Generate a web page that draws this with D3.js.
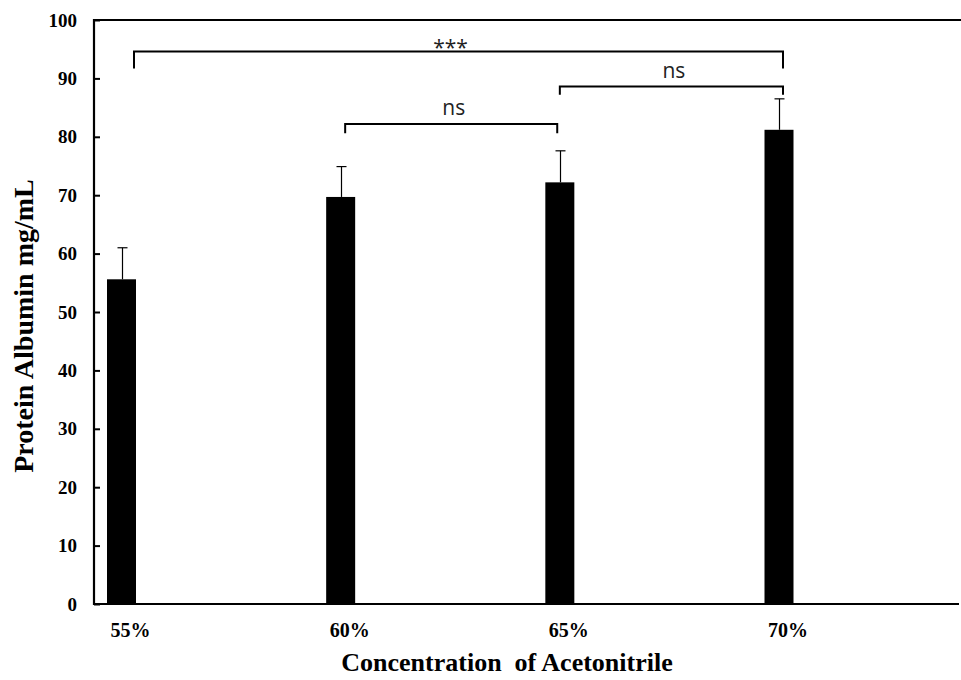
<!DOCTYPE html>
<html>
<head>
<meta charset="utf-8">
<script src="https://cdn.jsdelivr.net/npm/d3@7/dist/d3.min.js"></script>
<style>
  html, body { margin: 0; padding: 0; background: #fff; }
  svg { display: block; }
</style>
</head>
<body>
<svg id="chart" width="961" height="680"></svg>
<script>
// ---- data ----
const categories = ["55%", "60%", "65%", "70%"];
const values = [55.6, 69.7, 72.2, 81.2];
const errors = [5.4, 5.2, 5.4, 5.3];
const yTicks = [0, 10, 20, 30, 40, 50, 60, 70, 80, 90, 100];
const bracketFrom = ["55%", "65%", "60%"];
const bracketTo = ["70%", "70%", "65%"];
const bracketTop = [94.6, 88.6, 82.2];
const bracketLeg = [91.7, 87.2, 80.6];
const bracketLabels = ["***", "ns", "ns"];
const xTitle = "Concentration  of Acetonitrile";
const yTitle = "Protein Albumin mg/mL";

// ---- layout ----
const svg = d3.select("#chart");
const axisX = 94, axisBottom = 604, axisTop = 20, rightEdge = 961;
const serif = "'Times New Roman', 'Liberation Serif', serif";
const sans = "'Open Sans', 'Liberation Sans', sans-serif";

const x = d3.scalePoint().domain(categories).range([121.5, 779]);
const y = d3.scaleLinear().domain([0, 100]).range([axisBottom, axisTop]);
const barW = 29;
// small per-end offsets of bracket legs (layout only)
const legOffL = [12.5, 0, 4.5];
const legOffR = [4, 4, -2.6];

// top frame line
svg.append("line")
  .attr("x1", axisX).attr("x2", rightEdge)
  .attr("y1", y(100)).attr("y2", y(100))
  .attr("stroke", "#000").attr("stroke-width", 2);

// bars
svg.append("g").selectAll("rect")
  .data(categories)
  .join("rect")
  .attr("x", (d) => x(d) - barW / 2)
  .attr("width", barW)
  .attr("y", (d, i) => y(values[i]))
  .attr("height", (d, i) => y(0) - y(values[i]))
  .attr("fill", "#000");

// error bars (upper only)
const eg = svg.append("g").attr("stroke", "#000").attr("stroke-width", 1.2);
categories.forEach((c, i) => {
  const cx = Math.round(x(c)) + 0.5;
  eg.append("line").attr("x1", cx).attr("x2", cx)
    .attr("y1", y(values[i])).attr("y2", y(values[i] + errors[i]));
  eg.append("line").attr("x1", cx - 5).attr("x2", cx + 5)
    .attr("y1", y(values[i] + errors[i])).attr("y2", y(values[i] + errors[i]));
});

// y axis
const yAxis = d3.axisLeft(y).tickValues(yTicks).tickSizeInner(-6).tickSizeOuter(0).tickPadding(17);
const yg = svg.append("g").attr("transform", `translate(${axisX},0)`).call(yAxis);
yg.select(".domain").attr("stroke-width", 2.2).attr("d", `M0,${axisBottom + 1}V${axisTop - 1}`);
yg.selectAll(".tick line").attr("stroke-width", 2);
yg.selectAll(".tick text")
  .attr("font-family", serif).attr("font-weight", "bold").attr("font-size", 19).attr("fill", "#000");

// x axis line
svg.append("line")
  .attr("x1", axisX - 1).attr("x2", 959)
  .attr("y1", axisBottom).attr("y2", axisBottom)
  .attr("stroke", "#000").attr("stroke-width", 2.2);

// x category labels
svg.append("g").selectAll("text")
  .data(categories)
  .join("text")
  .attr("x", (d) => x(d) + 9)
  .attr("y", 637)
  .attr("text-anchor", "middle")
  .attr("font-family", serif).attr("font-weight", "bold").attr("font-size", 20)
  .text((d) => d);

// significance brackets
const bg = svg.append("g");
bracketLabels.forEach((lab, i) => {
  const x1 = x(bracketFrom[i]) + legOffL[i];
  const x2 = x(bracketTo[i]) + legOffR[i];
  const yt = y(bracketTop[i]);
  const yl = y(bracketLeg[i]);
  bg.append("path")
    .attr("d", `M${x1},${yl}V${yt}H${x2}V${yl}`)
    .attr("fill", "none").attr("stroke", "#000").attr("stroke-width", 2);
  bg.append("text")
    .attr("x", (x1 + x2) / 2 + (lab === "***" ? -8 : 2.5))
    .attr("y", lab === "***" ? yt + 3 : yt - 9)
    .attr("text-anchor", "middle")
    .attr("font-family", sans).attr("font-size", 21).attr("fill", "#222")
    .text(lab);
});

// axis titles
svg.append("text")
  .attr("x", 507).attr("y", 671)
  .attr("text-anchor", "middle")
  .attr("font-family", serif).attr("font-weight", "bold").attr("font-size", 26)
  .style("white-space", "pre")
  .text(xTitle);

svg.append("text")
  .attr("transform", "translate(33,326) rotate(-90)")
  .attr("text-anchor", "middle")
  .attr("font-family", serif).attr("font-weight", "bold").attr("font-size", 28)
  .text(yTitle);
</script>
</body>
</html>
